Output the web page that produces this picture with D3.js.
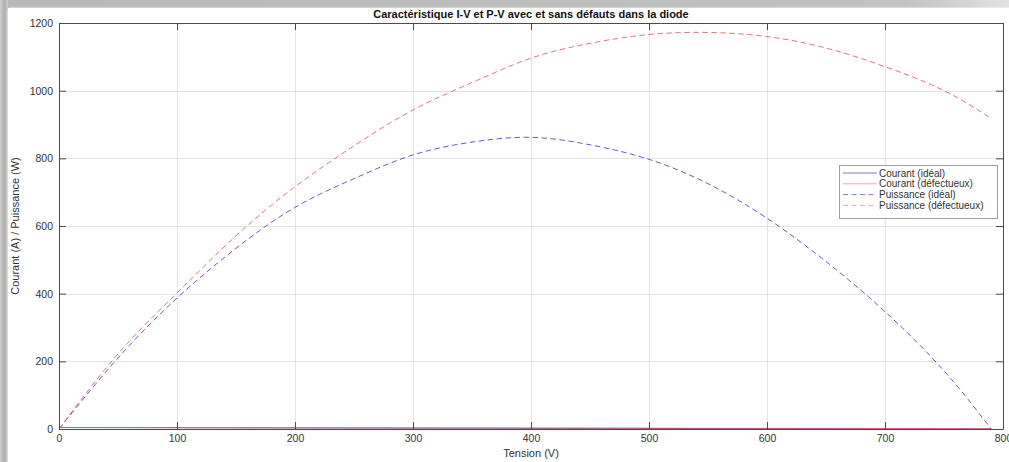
<!DOCTYPE html>
<html>
<head>
<meta charset="utf-8">
<script src="https://cdn.jsdelivr.net/npm/d3@7/dist/d3.min.js"></script>
<style>
  html, body { margin: 0; padding: 0; background: #ffffff; }
  svg { display: block; font-family: "Liberation Sans", Arial, sans-serif; }
</style>
</head>
<body>
<svg id="chart" width="1009" height="462"></svg>
<script>
// Tension (V) sample points
const voltage = [0, 50, 100, 150, 200, 250, 300, 350, 400, 450, 500, 550, 600, 650, 700, 750, 790];
// Courant (A)
const currentIdeal = [4.35, 4.2, 3.87, 3.56, 3.28, 2.98, 2.70, 2.42, 2.16, 1.87, 1.59, 1.32, 1.04, 0.76, 0.50, 0.23, 0];
const currentFault = [4.46, 4.44, 4.02, 3.81, 3.58, 3.36, 3.14, 2.93, 2.74, 2.53, 2.33, 2.13, 1.93, 1.74, 1.53, 1.34, 1.16];
// Puissance (W)
const powerIdeal = [0, 210, 387, 534, 655, 740, 810, 848, 862, 840, 797, 725, 623, 495, 347, 172, 0];
const powerFault = [0, 222, 402, 571, 716, 837, 943, 1024, 1096, 1140, 1166, 1172, 1160, 1126, 1071, 1000, 918];

const xTicks = [0, 100, 200, 300, 400, 500, 600, 700, 800];
const yTicks = [0, 200, 400, 600, 800, 1000, 1200];

const titleText = "Caractéristique I-V et P-V avec et sans défauts dans la diode";
const xLabel = "Tension (V)";
const yLabel = "Courant (A) / Puissance (W)";

const seriesNames = ["Courant (idéal)", "Courant (défectueux)", "Puissance (idéal)", "Puissance (défectueux)"];

const blue = "#4242c4";
const red = "#e05a5e";

const svg = d3.select("#chart");
const W = 1009, H = 462;

// Frame with soft shadow along the top and left edges
const defs = svg.append("defs");
const gTop = defs.append("linearGradient").attr("id", "shadeTop").attr("x1", 0).attr("y1", 0).attr("x2", 1).attr("y2", 0);
gTop.append("stop").attr("offset", "0%").attr("stop-color", "#b8b8b8");
gTop.append("stop").attr("offset", "90%").attr("stop-color", "#c2c2c2");
gTop.append("stop").attr("offset", "100%").attr("stop-color", "#e2e2e2");
const gLeft = defs.append("linearGradient").attr("id", "shadeLeft").attr("x1", 0).attr("y1", 0).attr("x2", 1).attr("y2", 0);
gLeft.append("stop").attr("offset", "0%").attr("stop-color", "#d0d0d0");
gLeft.append("stop").attr("offset", "55%").attr("stop-color", "#b0b0b0");
gLeft.append("stop").attr("offset", "100%").attr("stop-color", "#cccccc");
const blur = defs.append("filter").attr("id", "soft").attr("x", "-5%").attr("y", "-5%").attr("width", "110%").attr("height", "110%");
blur.append("feGaussianBlur").attr("stdDeviation", 1.2);

svg.append("rect").attr("x", 0).attr("y", 0).attr("width", W).attr("height", 8).attr("fill", "url(#shadeTop)");
svg.append("rect").attr("x", 0).attr("y", 0).attr("width", 8).attr("height", H).attr("fill", "url(#shadeLeft)");
svg.append("rect").attr("x", 8).attr("y", 8).attr("width", W).attr("height", H).attr("rx", 3)
  .attr("fill", "#ffffff").attr("filter", "url(#soft)");

// Plot area
const plotLeft = 59, plotRight = 1003, plotTop = 23, plotBottom = 429;
const x = d3.scaleLinear().domain([0, 800]).range([plotLeft, plotRight]);
const y = d3.scaleLinear().domain([0, 1200]).range([plotBottom, plotTop]);

// Grid
const grid = svg.append("g").attr("stroke", "#e4e4e4").attr("stroke-width", 1);
grid.selectAll("line.gx").data(xTicks.slice(1, -1)).join("line")
  .attr("x1", d => Math.round(x(d)) + 0.5).attr("x2", d => Math.round(x(d)) + 0.5)
  .attr("y1", plotTop).attr("y2", plotBottom);
grid.selectAll("line.gy").data(yTicks.slice(1, -1)).join("line")
  .attr("y1", d => Math.round(y(d)) + 0.5).attr("y2", d => Math.round(y(d)) + 0.5)
  .attr("x1", plotLeft).attr("x2", plotRight);

// Series
const pts = (vals) => voltage.map((v, i) => [v, vals[i]]);
const line = d3.line().x(d => x(d[0])).y(d => y(d[1])).curve(d3.curveNatural);

const series = [
  { vals: currentIdeal, color: blue, dash: null },
  { vals: currentFault, color: red, dash: null },
  { vals: powerIdeal, color: blue, dash: "5.5,3.5" },
  { vals: powerFault, color: red, dash: "5.5,3.5" }
];
const gLines = svg.append("g").attr("fill", "none");
series.forEach(s => {
  gLines.append("path")
    .attr("d", line(pts(s.vals)))
    .attr("stroke", s.color)
    .attr("stroke-width", 1)
    .attr("stroke-opacity", 0.85)
    .attr("stroke-dasharray", s.dash);
});

// Axes (box with inward ticks on all sides)
const axisColor = "#4a4a4a";
const tickLen = 7;
const fmt = d3.format("d");
const axG = svg.append("g");
const xb = axG.append("g").attr("transform", `translate(0,${plotBottom})`)
  .call(d3.axisBottom(x).tickValues(xTicks).tickFormat(fmt).tickSize(-tickLen).tickPadding(6).tickSizeOuter(0));
const xt = axG.append("g").attr("transform", `translate(0,${plotTop})`)
  .call(d3.axisTop(x).tickValues(xTicks).tickSize(-tickLen).tickFormat("").tickSizeOuter(0));
const yl = axG.append("g").attr("transform", `translate(${plotLeft},0)`)
  .call(d3.axisLeft(y).tickValues(yTicks).tickFormat(fmt).tickSize(-tickLen).tickPadding(6).tickSizeOuter(0));
const yr = axG.append("g").attr("transform", `translate(${plotRight},0)`)
  .call(d3.axisRight(y).tickValues(yTicks).tickSize(-tickLen).tickFormat("").tickSizeOuter(0));
[xb, xt, yl, yr].forEach(g => {
  g.select(".domain").attr("stroke", axisColor);
  g.selectAll(".tick line").attr("stroke", axisColor);
  g.selectAll(".tick text").attr("fill", "#333").attr("font-size", 10.5)
    .attr("font-family", "'Liberation Sans', Arial, sans-serif");
});

// Title and axis labels
svg.append("text").attr("x", (plotLeft + plotRight) / 2).attr("y", 18)
  .attr("text-anchor", "middle").attr("font-size", 11).attr("font-weight", "bold").attr("fill", "#111")
  .text(titleText);
svg.append("text").attr("x", (plotLeft + plotRight) / 2).attr("y", 457)
  .attr("text-anchor", "middle").attr("font-size", 11).attr("fill", "#333")
  .text(xLabel);
svg.append("text").attr("transform", `translate(19,${(plotTop + plotBottom) / 2}) rotate(-90)`)
  .attr("text-anchor", "middle").attr("font-size", 11).attr("fill", "#333")
  .text(yLabel);

// Legend
const lg = svg.append("g").attr("transform", "translate(839,165)");
lg.append("rect").attr("x", 0.5).attr("y", 0.5).attr("width", 158).attr("height", 53)
  .attr("fill", "#ffffff").attr("stroke", "#a0a0a0").attr("stroke-width", 1);
const legendColors = [blue, "#f0a8ac", blue, "#f0a8ac"];
const legendDash = [null, null, "5,3.5", "5,3.5"];
seriesNames.forEach((name, i) => {
  const yy = 8 + i * 10.8;
  lg.append("line").attr("x1", 4).attr("x2", 38).attr("y1", yy).attr("y2", yy)
    .attr("stroke", legendColors[i]).attr("stroke-width", 1).attr("stroke-opacity", i % 2 ? 1 : 0.7)
    .attr("stroke-dasharray", legendDash[i]);
  lg.append("text").attr("x", 40).attr("y", yy + 3.5).attr("font-size", 10).attr("fill", "#333")
    .text(name);
});
</script>
</body>
</html>
